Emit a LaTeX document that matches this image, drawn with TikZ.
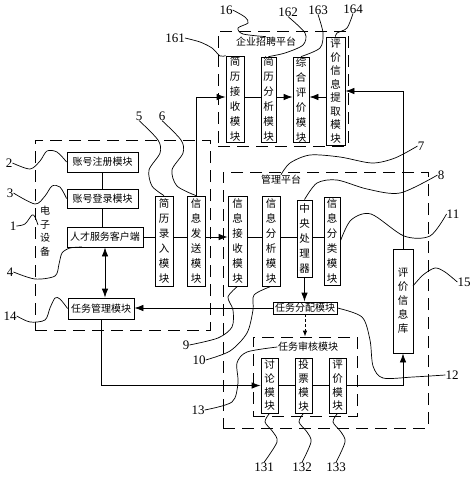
\documentclass[tikz,border=0pt]{standalone}
\usepackage{fontspec}
\setmainfont{Liberation Serif}
\newfontfamily\cjk{Noto Sans CJK SC}
\usetikzlibrary{calc,arrows,arrows.meta,positioning}

\begin{document}
\begin{tikzpicture}[x=1pt,y=-1pt]
				\tikzstyle{mbox}=[draw, line width=0.8pt, inner sep=0.5pt, font=\cjk\fontsize{10}{12}\selectfont]
				\tikzstyle{vbox}=[draw, line width=0.8pt, align=center, inner sep=0pt, font=\cjk\fontsize{10.5}{15}\selectfont]
				\tikzstyle{plat}=[draw, dash pattern=on 12pt off 7pt, line width=0.8pt, inner sep=0pt]
				\tikzstyle{ptext}=[inner sep=0.5pt, font=\cjk\fontsize{10}{13.5}\selectfont, align=center]
				\tikzstyle{num}=[inner sep=0pt, font=\fontsize{13}{13}\selectfont]
				\tikzstyle{lead}=[line width=0.7pt]
				\tikzstyle{conn}=[line width=0.8pt]
				\tikzstyle{arr}=[conn, -{Latex[length=9pt,width=6.5pt]}]
				\useasboundingbox (0,0) rectangle (474,477);
				\coordinate (toprow) at (0,97);
				% platforms
				\node[plat, minimum width=175pt, minimum height=190pt] (device) at (122.5,235) {};
				\node[plat, minimum width=130pt, minimum height=115pt] (ent) at (283,88.5) {};
				\node[plat, minimum width=205pt, minimum height=256pt] (mgmt) at (325.5,300) {};
				\node[plat, minimum width=104pt, minimum height=79pt] (review) at (305,376.5) {};
				\node[ptext] (devlabel) at (45,231) {电\\子\\设\\备};
				\node[ptext] (entlabel) at (266,42) {企业招聘平台};
				\node[ptext] (mgmtlabel) at (281,180) {管理平台};
				\node[ptext] (reviewlabel) at (308,347) {任务审核模块};
				% electronic device
				\node[mbox, minimum width=71pt, minimum height=20pt] (reg) at (102.5,162) {账号注册模块};
				\node[mbox, minimum width=71pt, minimum height=19pt] (login) at (102.5,198.5) {账号登录模块};
				\node[mbox, minimum width=76pt, minimum height=20pt] (client) at (105,237) {人才服务客户端};
				\node[mbox, minimum width=66pt, minimum height=21pt] (taskmgr) at (101,308.5) {任务管理模块};
				\node[vbox, minimum width=18pt, minimum height=90pt] (resin) at (164,241) {简\\历\\录\\入\\模\\块};
				\node[vbox, minimum width=18pt, minimum height=90pt] (send) at (196,241) {信\\息\\发\\送\\模\\块};
				% enterprise platform
				\node[vbox, minimum width=18pt, minimum height=86pt] (cvrecv) at (235,99) {简\\历\\接\\收\\模\\块};
				\node[vbox, minimum width=15pt, minimum height=85pt] (cvanal) at (268.5,99.5) {简\\历\\分\\析\\模\\块};
				\node[vbox, minimum width=16pt, minimum height=85pt] (comp) at (301,99.5) {综\\合\\评\\价\\模\\块};
				\node[vbox, minimum width=19pt, minimum height=108pt, font=\cjk\fontsize{10.5}{13.5}\selectfont] (extract) at (335.5,91) {评\\价\\信\\息\\提\\取\\模\\块};
				% management platform
				\node[vbox, minimum width=19pt, minimum height=90pt] (recv) at (237.5,241) {信\\息\\接\\收\\模\\块};
				\node[vbox, minimum width=18pt, minimum height=90pt] (anal) at (271,241) {信\\息\\分\\析\\模\\块};
				\node[vbox, minimum width=15pt, minimum height=77pt] (cpu) at (304.5,238.5) {中\\央\\处\\理\\器};
				\node[vbox, minimum width=16pt, minimum height=88pt] (classify) at (332,241) {信\\息\\分\\类\\模\\块};
				\node[vbox, minimum width=20pt, minimum height=104pt, font=\cjk\fontsize{10.5}{14}\selectfont] (evaldb) at (403,301) {评\\价\\信\\息\\库};
				\node[mbox, minimum width=64pt, minimum height=12pt, inner sep=0pt] (assign) at (305,308) {任务分配模块};
				\node[vbox, minimum width=17pt, minimum height=55pt, font=\cjk\fontsize{10.5}{13.7}\selectfont] (disc) at (269.5,385.5) {讨\\论\\模\\块};
				\node[vbox, minimum width=17pt, minimum height=55pt, font=\cjk\fontsize{10.5}{13.7}\selectfont] (vote) at (303.5,385.5) {投\\票\\模\\块};
				\node[vbox, minimum width=17pt, minimum height=55pt, font=\cjk\fontsize{10.5}{13.7}\selectfont] (evalm) at (337.5,385.5) {评\\价\\模\\块};
				% connectors
				\draw[conn] (reg) -- (login);
				\draw[conn] (login.south) -- (login.south |- client.north);
				\draw[conn, {Latex[length=9pt,width=6.5pt]}-{Latex[length=9pt,width=6.5pt]}] (client.south) -- (client.south |- taskmgr.north);
				\draw[conn] (client.east) -- (resin.west |- client.east);
				\draw[conn] (resin.east |- client.east) -- (send.west |- client.east);
				\draw[arr] (send.east |- client.east) -- (recv.west |- client.east);
				\draw[conn] (recv.east |- client.east) -- (anal.west |- client.east);
				\draw[conn] (anal.east |- client.east) -- (cpu.west |- client.east);
				\draw[conn] (cpu.east |- client.east) -- (classify.west |- client.east);
				\draw[arr] (send.north) |- (cvrecv.west |- toprow);
				\draw[conn] (cvrecv.east |- toprow) -- (cvanal.west |- toprow);
				\draw[arr] (cvanal.east |- toprow) -- (comp.west |- toprow);
				\draw[arr] (extract.west |- toprow) -- (comp.east |- toprow);
				\draw[arr] (evaldb.north) |- (extract.east);
				\draw[arr] (cpu.south) -- (cpu.south |- assign.north);
				\draw[arr] (assign.west) -- (assign.west -| taskmgr.east);
				\draw[conn, densely dashed, -{Latex[length=6pt,width=4.5pt]}] (assign.south) -- (assign.south |- review.north);
				\draw[arr] (taskmgr.south) |- (disc.west);
				\draw[conn] (disc) -- (vote);
				\draw[conn] (vote) -- (evalm);
				\draw[arr] (evalm.east) -| (evaldb.south);
				% labels
				\node[num] (l1) at (13,226) {1};
				\node[num] (l2) at (9,163) {2};
				\node[num] (l3) at (10,193) {3};
				\node[num] (l4) at (10,272) {4};
				\node[num] (l5) at (139,116) {5};
				\node[num] (l6) at (162,116) {6};
				\node[num] (l7) at (421,146) {7};
				\node[num] (l8) at (441,175) {8};
				\node[num] (l9) at (186,345) {9};
				\node[num] (l10) at (199,360) {10};
				\node[num] (l11) at (453,214) {11};
				\node[num] (l12) at (452,375) {12};
				\node[num] (l13) at (198,410) {13};
				\node[num] (l14) at (10,316) {14};
				\node[num] (l15) at (464,282) {15};
				\node[num] (l16) at (226,10) {16};
				\node[num] (l161) at (175,38) {161};
				\node[num] (l162) at (288,12) {162};
				\node[num] (l163) at (318,10) {163};
				\node[num] (l164) at (353,9) {164};
				\node[num] (l131) at (264,467) {131};
				\node[num] (l132) at (302,467) {132};
				\node[num] (l133) at (336,467) {133};
				% leaders
				\draw[lead] plot[smooth] coordinates {(l1.east) (25,224) (32,215) (35,217) (38,225)};
				\draw[lead] plot[smooth] coordinates {(l2.east) (30,169) (40,161) (47,151) (57,152) (reg.west)};
				\draw[lead] plot[smooth] coordinates {(l3.east) (35,204) (45,196) (52,186) (60,187) (login.west)};
				\draw[lead] plot[smooth] coordinates {(l4.east) (35,279) (55,276) (59,264) (62,253) (70,248) (82,247)};
				\draw[lead] plot[smooth] coordinates {(l5.south) (158,140) (160,153) (149,170) (152,186) (resin.north)};
				\draw[lead] plot[smooth] coordinates {(l6.south) (181,140) (183,153) (172,170) (177,186) (send.north)};
				\draw[lead] plot[smooth] coordinates {(l7.west) (395,158) (372,163) (340,157) (310,155) (290,163) (mgmtlabel.north)};
				\draw[lead] plot[smooth] coordinates {(l8.west) (400,193) (367,189) (337,180) (317,183) (cpu.north)};
				\draw[lead] plot[smooth] coordinates {(l9.east) (218,338) (232,327) (233,310) (228,297) (recv.south)};
				\draw[lead] plot[smooth] coordinates {(l10.east) (230,351) (247,333) (253,310) (254,295) (anal.south)};
				\draw[lead] plot[smooth] coordinates {(l11.west) (430,236) (404,236) (371,214) (351,220) (classify.east)};
				\draw[lead] plot[smooth] coordinates {(l12.west) (413,377) (383,378) (373,366) (370,340) (362,317) (assign.east)};
				\draw[lead] plot[smooth] coordinates {(l13.east) (232,402) (238,383) (237,363) (247,352) (reviewlabel.west)};
				\draw[lead] plot[smooth] coordinates {(l14.east) (30,322) (45,320) (50,308) (55,298) (60,299) (taskmgr.west)};
				\draw[lead] plot[smooth] coordinates {(l15.west) (445,272) (435,268) (423,275) (413,286)};
				\draw[lead] plot[smooth] coordinates {(l16.east) (245,17) (248,23) (238,28) (243,34) (entlabel.north)};
				\draw[lead] plot[smooth] coordinates {(l161.east) (200,42) (212,48) (220,56) (cvrecv.north west)};
				\draw[lead] plot[smooth] coordinates {(l162.south) (305,33) (303,45) (285,53) (cvanal.north)};
				\draw[lead] plot[smooth] coordinates {(l163.south) (323,33) (320,48) (comp.north)};
				\draw[lead] plot[smooth] coordinates {(l164.south) (347,28) (337,33) (extract.north)};
				\draw[lead] plot[smooth] coordinates {(disc.south) (265,422) (273,432) (277,442) (l131.north)};
				\draw[lead] plot[smooth] coordinates {(vote.south) (299,422) (307,432) (311,442) (l132.north)};
				\draw[lead] plot[smooth] coordinates {(evalm.south) (333,422) (341,432) (345,442) (l133.north)};
			\end{tikzpicture}
\end{document}
